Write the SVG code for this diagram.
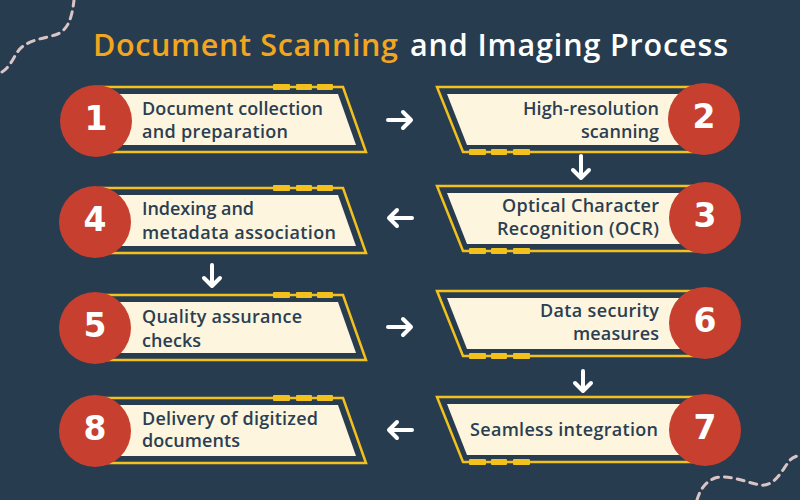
<svg xmlns="http://www.w3.org/2000/svg" width="800" height="500" viewBox="0 0 800 500">
<style>
.bg{fill:#283c50}
.outline{fill:none;stroke:#f2c11d;stroke-width:2.5;stroke-linejoin:miter}
.cream{fill:#fdf5dd}
.dash{fill:#f2c11d}
.circ{fill:#c63f2f}
.num{font-family:"DejaVu Sans",sans-serif;font-weight:700;font-size:33px;fill:#ffffff;text-anchor:middle}
.lbl{font-family:"Open Sans","Liberation Sans",sans-serif;font-weight:600;font-size:18px;fill:#2b3e52}
.title{font-family:"Open Sans","Liberation Sans",sans-serif;font-weight:600;font-size:30.5px}
.arr{fill:none;stroke:#ffffff;stroke-width:4;stroke-linecap:round;stroke-linejoin:round}
.deco{fill:none;stroke:#d9c5c5;stroke-width:3;stroke-dasharray:7 6;stroke-linecap:round}
</style>
<rect class="bg" x="0" y="0" width="800" height="500"/>
<path class="deco" d="M2,72 C12,66 15,52 22,47 C30,40 45,38 55,35 C68,31 72,18 74,0"/>
<path class="deco" d="M697,500 C700,490 705,482 715,478 C728,474 745,482 760,485 C775,487 782,470 790,460 C793,457 797,456 800,455"/>
<text class="title" x="93" y="56" fill="#f2a61e" textLength="305">Document Scanning</text>
<text class="title" x="410" y="56" fill="#ffffff" textLength="318">and Imaging Process</text>

<g id="node1" transform="translate(0,87)">
<polygon class="outline" points="100,0 343,0 366,65 100,65"/>
<polygon class="cream" points="100,7 338,7 356,58 100,58"/>
<rect class="dash" x="273" y="-3" width="17" height="6" rx="1"/><rect class="dash" x="296" y="-3" width="16" height="6" rx="1"/><rect class="dash" x="317" y="-3" width="16" height="6" rx="1"/>
<circle class="circ" cx="96" cy="34" r="36"/>
<text class="num" x="96" y="43">1</text>
<text class="lbl" x="142" y="28" textLength="181">Document collection</text>
<text class="lbl" x="142" y="51" textLength="146">and preparation</text>
</g>

<g id="node2" transform="translate(0,87)">
<polygon class="outline" points="437,0 700,0 700,65 463,65"/>
<polygon class="cream" points="447,7 700,7 700,58 467,58"/>
<rect class="dash" x="469" y="62" width="17" height="6" rx="1"/><rect class="dash" x="491" y="62" width="16" height="6" rx="1"/><rect class="dash" x="513" y="62" width="17" height="6" rx="1"/>
<circle class="circ" cx="704" cy="32" r="36"/>
<text class="num" x="704" y="41">2</text>
<text class="lbl" x="523" y="28" textLength="136">High-resolution</text>
<text class="lbl" x="581" y="51" textLength="78">scanning</text>
</g>

<g id="node3" transform="translate(0,186)">
<polygon class="outline" points="437,0 700,0 700,65 463,65"/>
<polygon class="cream" points="447,7 700,7 700,58 467,58"/>
<rect class="dash" x="469" y="62" width="17" height="6" rx="1"/><rect class="dash" x="491" y="62" width="16" height="6" rx="1"/><rect class="dash" x="513" y="62" width="17" height="6" rx="1"/>
<circle class="circ" cx="705" cy="32" r="36"/>
<text class="num" x="705" y="41">3</text>
<text class="lbl" x="502" y="26" textLength="157">Optical Character</text>
<text class="lbl" x="497" y="49" textLength="162">Recognition (OCR)</text>
</g>

<g id="node4" transform="translate(0,188)">
<polygon class="outline" points="100,0 343,0 366,65 100,65"/>
<polygon class="cream" points="100,7 338,7 356,58 100,58"/>
<rect class="dash" x="273" y="-3" width="17" height="6" rx="1"/><rect class="dash" x="296" y="-3" width="16" height="6" rx="1"/><rect class="dash" x="317" y="-3" width="16" height="6" rx="1"/>
<circle class="circ" cx="95" cy="34" r="36"/>
<text class="num" x="95" y="43">4</text>
<text class="lbl" x="142" y="27" textLength="112">Indexing and</text>
<text class="lbl" x="142" y="51" textLength="194">metadata association</text>
</g>

<g id="node5" transform="translate(0,295)">
<polygon class="outline" points="100,0 343,0 366,65 100,65"/>
<polygon class="cream" points="100,7 338,7 356,58 100,58"/>
<rect class="dash" x="273" y="-3" width="17" height="6" rx="1"/><rect class="dash" x="296" y="-3" width="16" height="6" rx="1"/><rect class="dash" x="317" y="-3" width="16" height="6" rx="1"/>
<circle class="circ" cx="95" cy="33" r="36"/>
<text class="num" x="95" y="42">5</text>
<text class="lbl" x="142" y="28" textLength="160">Quality assurance</text>
<text class="lbl" x="142" y="52" textLength="59">checks</text>
</g>

<g id="node6" transform="translate(0,291)">
<polygon class="outline" points="437,0 700,0 700,65 463,65"/>
<polygon class="cream" points="447,7 700,7 700,58 467,58"/>
<rect class="dash" x="469" y="62" width="17" height="6" rx="1"/><rect class="dash" x="491" y="62" width="16" height="6" rx="1"/><rect class="dash" x="513" y="62" width="17" height="6" rx="1"/>
<circle class="circ" cx="705" cy="32" r="36"/>
<text class="num" x="705" y="41">6</text>
<text class="lbl" x="540" y="26" textLength="119">Data security</text>
<text class="lbl" x="573" y="49" textLength="86">measures</text>
</g>

<g id="node7" transform="translate(0,397)">
<polygon class="outline" points="437,0 700,0 700,65 463,65"/>
<polygon class="cream" points="447,7 700,7 700,58 467,58"/>
<rect class="dash" x="469" y="62" width="17" height="6" rx="1"/><rect class="dash" x="491" y="62" width="16" height="6" rx="1"/><rect class="dash" x="513" y="62" width="17" height="6" rx="1"/>
<circle class="circ" cx="705" cy="33" r="36"/>
<text class="num" x="705" y="42">7</text>
<text class="lbl" x="470" y="39" textLength="188">Seamless integration</text>
</g>

<g id="node8" transform="translate(0,398)">
<polygon class="outline" points="100,0 343,0 366,65 100,65"/>
<polygon class="cream" points="100,7 338,7 356,58 100,58"/>
<rect class="dash" x="273" y="-3" width="17" height="6" rx="1"/><rect class="dash" x="296" y="-3" width="16" height="6" rx="1"/><rect class="dash" x="317" y="-3" width="16" height="6" rx="1"/>
<circle class="circ" cx="95" cy="33" r="36"/>
<text class="num" x="95" y="42">8</text>
<text class="lbl" x="142" y="27" textLength="176">Delivery of digitized</text>
<text class="lbl" x="142" y="49" textLength="98">documents</text>
</g>

<g id="connectors">
<path class="arr" d="M388,120 H411 M403,112 L411,120 L403,128"/>
<path class="arr" d="M581,156 V178 M573,170 L581,178 L589,170"/>
<path class="arr" d="M412,218 H389 M397,210 L389,218 L397,226"/>
<path class="arr" d="M212,265 V286 M204,278 L212,286 L220,278"/>
<path class="arr" d="M388,327 H411 M403,319 L411,327 L403,335"/>
<path class="arr" d="M583,371 V391 M575,383 L583,391 L591,383"/>
<path class="arr" d="M412,430 H389 M397,422 L389,430 L397,438"/>
</g>
</svg>
